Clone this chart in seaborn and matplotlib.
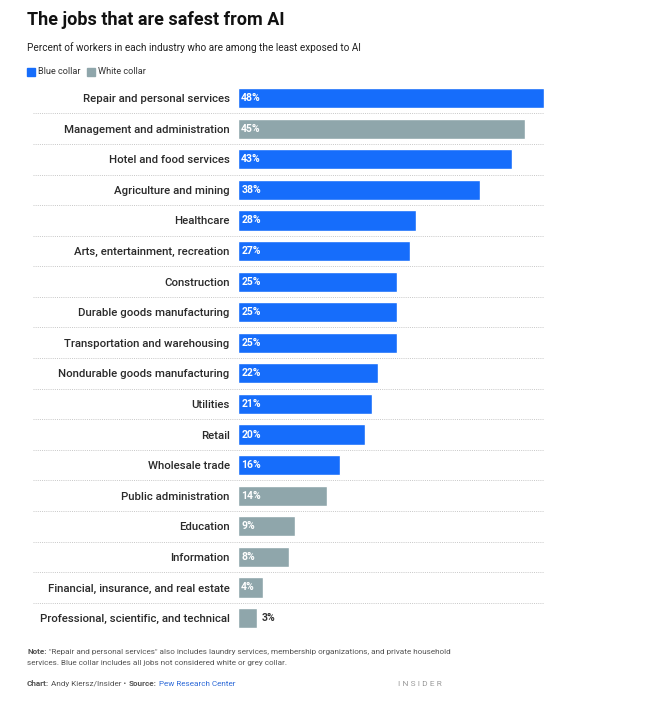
import pandas as pd
import seaborn as sns
import matplotlib.pyplot as plt
from matplotlib.transforms import blended_transform_factory

# Data
industries = [
    'Repair and personal services', 'Management and administration',
    'Hotel and food services', 'Agriculture and mining', 'Healthcare',
    'Arts, entertainment, recreation', 'Construction',
    'Durable goods manufacturing', 'Transportation and warehousing',
    'Nondurable goods manufacturing', 'Utilities', 'Retail',
    'Wholesale trade', 'Public administration', 'Education', 'Information',
    'Financial, insurance, and real estate',
    'Professional, scientific, and technical',
]
percents = [48, 45, 43, 38, 28, 27, 25, 25, 25, 22, 21, 20, 16, 14, 9, 8, 4, 3]
collar = ['Blue collar', 'White collar', 'Blue collar', 'Blue collar',
          'Blue collar', 'Blue collar', 'Blue collar', 'Blue collar',
          'Blue collar', 'Blue collar', 'Blue collar', 'Blue collar',
          'Blue collar', 'White collar', 'White collar', 'White collar',
          'White collar', 'White collar']

BLUE = '#166dfb'
GREY = '#8fa6ab'
palette = {'Blue collar': BLUE, 'White collar': GREY}

df = pd.DataFrame({'industry': industries, 'pct': percents, 'collar': collar})

sns.set_style('white')
plt.rcParams['font.family'] = ['Roboto', 'DejaVu Sans']

fig = plt.figure(figsize=(6.45, 7.14), dpi=100)
ax = fig.add_axes([0.369, 0.113, 0.474, 0.771])

sns.barplot(data=df, x='pct', y='industry', hue='collar', palette=palette,
            dodge=False, width=0.66, legend=False, ax=ax, saturation=1)

ax.set_xlim(0, 48)
ax.set_ylim(len(df) - 0.5, -0.5)
ax.set_xlabel('')
ax.set_ylabel('')
ax.set_xticks([])
ax.tick_params(axis='y', length=0, pad=6, labelsize=8.2, labelcolor='#2a2a2a')
for lab in ax.get_yticklabels():
    lab.set_fontweight('medium')
for s in ax.spines.values():
    s.set_visible(False)

# dotted separators between rows, reaching into the label area
trans = blended_transform_factory(ax.transAxes, ax.transData)
x0 = (33 - 238) / 306
for i in range(len(df) - 1):
    ax.plot([x0, 1.0], [i + 0.5, i + 0.5], transform=trans, clip_on=False,
            color='#c8c8c8', lw=0.7, ls=(0, (1, 1.2)))

# value labels
for i, v in enumerate(percents):
    if v >= 4:
        ax.text(0.5, i, f'{v}%', va='center', ha='left', color='white',
                fontsize=7.5, fontweight='bold')
    else:
        ax.text(v + 0.7, i, f'{v}%', va='center', ha='left', color='#333333',
                fontsize=7.5, fontweight='bold')

# title, subtitle, legend
fig.text(27 / 645, 1 - 20 / 714, 'The jobs that are safest from AI',
         fontsize=13, fontweight='bold', va='center', color='#111111')
fig.text(27 / 645, 1 - 48 / 714,
         'Percent of workers in each industry who are among the least exposed to AI',
         fontsize=7.2, va='center', color='#222222')
for lx, label, c in [(27, 'Blue collar', BLUE), (87, 'White collar', GREY)]:
    fig.patches.append(plt.Rectangle((lx / 645, 1 - 75.5 / 714), 8 / 645, 8 / 714,
                                     transform=fig.transFigure, color=c))
    fig.text((lx + 11) / 645, 1 - 71.5 / 714, label, fontsize=6.6,
             va='center', color='#333333')

# note and source
small = dict(fontsize=5.9, va='center', color='#555555')
note = fig.text(27 / 645, 1 - 652 / 714, 'Note:', fontweight='bold', **small)
ax.annotate('"Repair and personal services" also includes laundry services, '
            'membership organizations, and private household',
            xy=(1, 0.5), xycoords=note, xytext=(1.5, 0), textcoords='offset points',
            annotation_clip=False, **small)
fig.text(27 / 645, 1 - 663 / 714,
         'services. Blue collar includes all jobs not considered white or grey collar.',
         **small)
chart = fig.text(27 / 645, 1 - 684 / 714, 'Chart:', fontweight='bold', **small)
who = ax.annotate('Andy Kiersz/Insider \u2022', xy=(1, 0.5), xycoords=chart,
                  xytext=(1.5, 0), textcoords='offset points',
                  annotation_clip=False, **small)
src = ax.annotate('Source:', xy=(1, 0.5), xycoords=who, xytext=(1.5, 0),
                  textcoords='offset points', fontweight='bold',
                  annotation_clip=False, **small)
ax.annotate('Pew Research Center', xy=(1, 0.5), xycoords=src, xytext=(1.5, 0),
            textcoords='offset points', annotation_clip=False,
            **{**small, 'color': '#2f6bd8'})
fig.text(442 / 645, 1 - 684 / 714, 'I N S I D E R', fontsize=6,
         va='center', ha='right', color='#9a9a9a')

plt.savefig('out.png', dpi=100)
